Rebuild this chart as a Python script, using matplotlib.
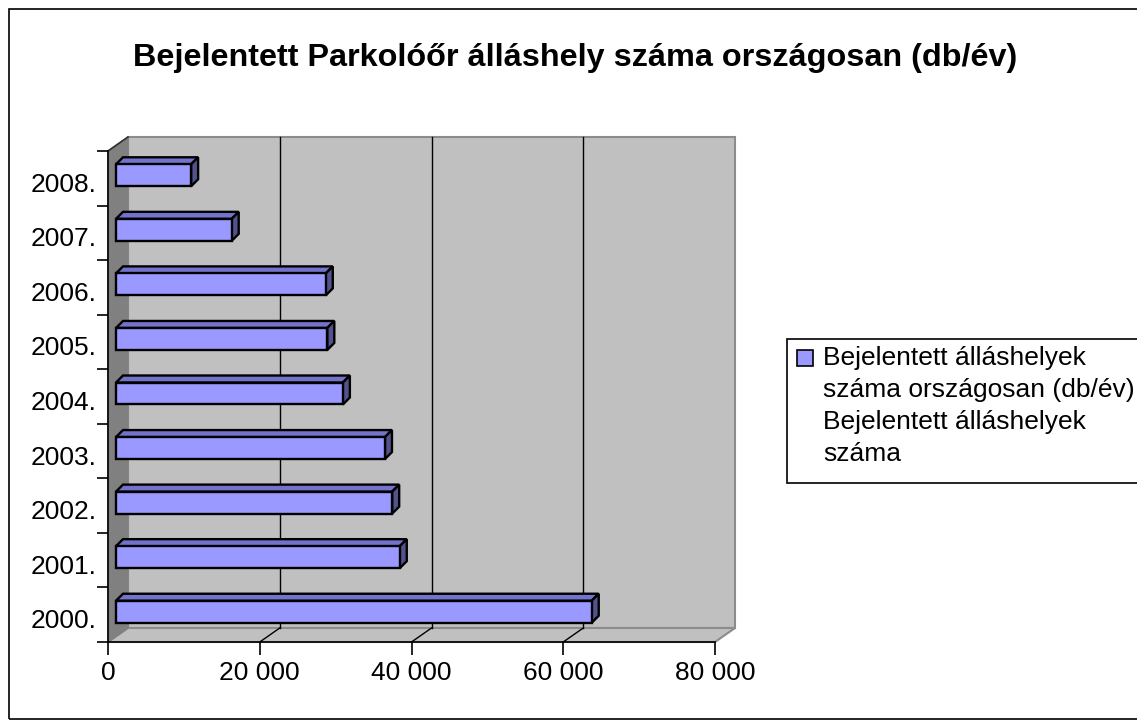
import matplotlib
matplotlib.use("Agg")
import matplotlib.pyplot as plt
import matplotlib.transforms as mt
from matplotlib.patches import Polygon, Rectangle
from matplotlib.lines import Line2D
from matplotlib.ticker import FixedLocator

plt.rcParams['font.family'] = ['Liberation Sans', 'DejaVu Sans']

# ---- data ----
years = ["2000.", "2001.", "2002.", "2003.", "2004.", "2005.", "2006.", "2007.", "2008."]
values = [62700, 37400, 36400, 35450, 29900, 27850, 27650, 15250, 9900]
xticks = [0, 20000, 40000, 60000, 80000]
xtick_labels = ["0", "20 000", "40 000", "60 000", "80 000"]
title = "Bejelentett Parkolóőr álláshely száma országosan (db/év)"
legend_lines = ["Bejelentett álláshelyek", "száma országosan (db/év)",
                "Bejelentett álláshelyek", "száma"]

W, H = 1137, 727
fig = plt.figure(figsize=(W / 100, H / 100), dpi=100)
fig.patch.set_facecolor("white")

FS = 19

# front plane of the plot in pixels
L, R, T, B = 108, 715, 151, 642
ax = fig.add_axes([L / W, 1 - B / H, (R - L) / W, (B - T) / H])
XMAX = 80000
n = len(years)
ax.set_xlim(0, XMAX)
ax.set_ylim(-0.5, n - 0.5)
ax.patch.set_visible(False)

px_x = XMAX / (R - L)          # data units per pixel, x
px_y = n / (B - T)             # data units per pixel, y

DX, DY = 20 * px_x, 14 * px_y  # depth of the floor / walls
FX, FY = 8 * px_x, 3 * px_y    # bar front plane
BX, BY = 7 * px_x, 7 * px_y    # bar depth
BH = 0.403

wall = "#C0C0C0"
side = "#808080"
edge_gray = "#8C8C8C"

y0, y1 = -0.5, n - 0.5
# back wall
ax.add_patch(Polygon([(DX, y0 + DY), (XMAX + DX, y0 + DY), (XMAX + DX, y1 + DY), (DX, y1 + DY)],
                     closed=True, facecolor=wall, edgecolor=edge_gray, lw=1.5, clip_on=False, zorder=1))
# floor
ax.add_patch(Polygon([(0, y0), (XMAX, y0), (XMAX + DX, y0 + DY), (DX, y0 + DY)],
                     closed=True, facecolor=wall, edgecolor=edge_gray, lw=1.5, clip_on=False, zorder=1))
# side wall
ax.add_patch(Polygon([(0, y0), (0, y1), (DX, y1 + DY), (DX, y0 + DY)],
                     closed=True, facecolor=side, edgecolor=side, lw=1, clip_on=False, zorder=1.5))
# top edge of side wall
ax.add_line(Line2D([0, DX], [y1, y1 + DY], color="#303030", lw=1.2, clip_on=False, zorder=2))

# gridlines on back wall and floor
for v in xticks[1:-1]:
    ax.add_line(Line2D([v + DX, v + DX], [y0 + DY, y1 + DY], color="black", lw=1, clip_on=False, zorder=2))
    ax.add_line(Line2D([v, v + DX], [y0, y0 + DY], color="black", lw=1, clip_on=False, zorder=2))

# bars
front_c, top_c, side_c = "#9999FF", "#7373CC", "#52528F"
pos = list(range(n))
ax.barh([p + FY for p in pos], values, height=BH, left=FX, color=front_c,
        edgecolor="black", linewidth=1.7, zorder=4)
for p, v in zip(pos, values):
    yb, yt = p + FY - BH / 2, p + FY + BH / 2
    xe = FX + v
    ax.add_patch(Polygon([(FX, yt), (xe, yt), (xe + BX, yt + BY), (FX + BX, yt + BY)],
                         closed=True, facecolor=top_c, edgecolor="black", lw=1.7, zorder=3, clip_on=False))
    ax.add_patch(Polygon([(xe, yb), (xe, yt), (xe + BX, yt + BY), (xe + BX, yb + BY)],
                         closed=True, facecolor=side_c, edgecolor="black", lw=1.7, zorder=3, clip_on=False))

# axes
for s in ["top", "right"]:
    ax.spines[s].set_visible(False)
for s in ["left", "bottom"]:
    ax.spines[s].set_color("black")
    ax.spines[s].set_linewidth(1.2)
    ax.spines[s].set_zorder(5)

ax.set_xticks(xticks)
ax.set_xticklabels(xtick_labels, fontsize=FS)
ax.tick_params(axis="x", direction="out", length=9, width=1.2, pad=5, color="black")

ax.yaxis.set_major_locator(FixedLocator([p - 0.5 for p in range(n + 1)]))
ax.set_yticklabels([])
ax.yaxis.set_minor_locator(FixedLocator(pos))
ax.set_yticklabels(years, minor=True, fontsize=FS)
ax.tick_params(axis="y", which="major", direction="out", length=8, width=1.2)
ax.tick_params(axis="y", which="minor", length=0, pad=8)
shift = mt.ScaledTranslation(0, -4 / 100, fig.dpi_scale_trans)
for lab in ax.get_yticklabels(minor=True):
    lab.set_transform(lab.get_transform() + shift)

# title
fig.text(575 / W, 1 - 58 / H, title, ha="center", va="center", fontsize=23.3, fontweight="bold")

# outer frame
fig.add_artist(Rectangle((9 / W, 1 - 719 / H), (W + 20) / W, (719 - 9) / H, transform=fig.transFigure,
                         fill=False, edgecolor="black", lw=1.2, clip_on=False))

# legend
LT, LB = 339, 483
fig.add_artist(Rectangle((787 / W, 1 - LB / H), (W + 20 - 787) / W, (LB - LT) / H, transform=fig.transFigure,
                         facecolor="white", edgecolor="black", lw=1.2, clip_on=False))
first = 358
fig.add_artist(Rectangle((797 / W, 1 - (first + 8) / H), 16 / W, 16 / H, transform=fig.transFigure,
                         facecolor=front_c, edgecolor="black", lw=1.2))
for k, line in enumerate(legend_lines):
    fig.text(823 / W, 1 - (first + k * 32) / H, line, ha="left", va="center", fontsize=FS)

fig.savefig("out.png", dpi=100)
